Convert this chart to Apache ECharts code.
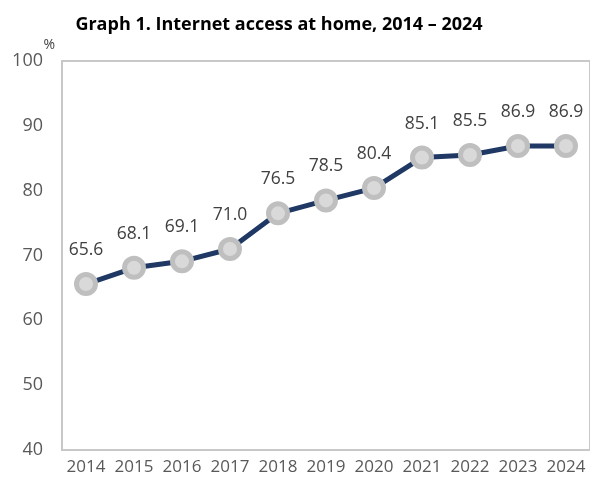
<!DOCTYPE html>
<html>
<head>
<meta charset="utf-8">
<script src="https://cdn.jsdelivr.net/npm/echarts@6/dist/echarts.min.js"></script>
<style>
  html, body { margin: 0; padding: 0; background: #fff; }
  #chart { width: 590px; height: 486px; }
</style>
</head>
<body>
<div id="chart"></div>
<script>
// years on the x axis
const years = ['2014', '2015', '2016', '2017', '2018', '2019', '2020', '2021', '2022', '2023', '2024'];
// share of households with internet access, %
const access = [65.6, 68.1, 69.1, 71.0, 76.5, 78.5, 80.4, 85.1, 85.5, 86.9, 86.9];

const font = '"Open Sans", "Noto Sans", sans-serif';

const chart = echarts.init(document.getElementById('chart'));

chart.setOption({
    animation: false,
    title: {
        text: 'Graph 1. Internet access at home, 2014 \u2013 2024',
        left: 274,
        textAlign: 'center',
        top: 11,
        textStyle: { fontFamily: font, fontWeight: 'bold', fontSize: 18, color: '#000' }
    },
    grid: {
        left: 62, right: -6, top: 61, bottom: 36,
        show: true, borderColor: '#c8c8c8', borderWidth: 2
    },
    xAxis: {
        type: 'category',
        data: years,
        boundaryGap: true,
        axisLine: { show: true, lineStyle: { color: '#c8c8c8', width: 2 } },
        axisTick: { show: false },
        axisLabel: { interval: 0, hideOverlap: false, fontFamily: font, fontSize: 17, color: '#595959', margin: 9 }
    },
    yAxis: {
        type: 'value',
        min: 40, max: 100, interval: 10,
        name: '%',
        nameLocation: 'end',
        nameGap: 3,
        nameTextStyle: { fontFamily: font, fontSize: 14, color: '#404040', align: 'right', padding: [0, 7, 0, 0] },
        axisLine: { show: true, lineStyle: { color: '#c8c8c8', width: 2 } },
        axisTick: { show: false },
        splitLine: { show: false },
        axisLabel: { fontFamily: font, fontSize: 18, color: '#595959', margin: 19 }
    },
    series: [{
        type: 'line',
        data: access,
        symbol: 'circle',
        symbolSize: 19,
        lineStyle: { color: '#1f3864', width: 5 },
        itemStyle: { color: '#d9d9d9', borderColor: '#bfbfbf', borderWidth: 5 },
        label: {
            show: true,
            position: 'top',
            distance: 13,
            fontFamily: font,
            fontSize: 17.5,
            color: '#404040',
            formatter: p => p.value.toFixed(1)
        }
    }]
});
</script>
</body>
</html>
